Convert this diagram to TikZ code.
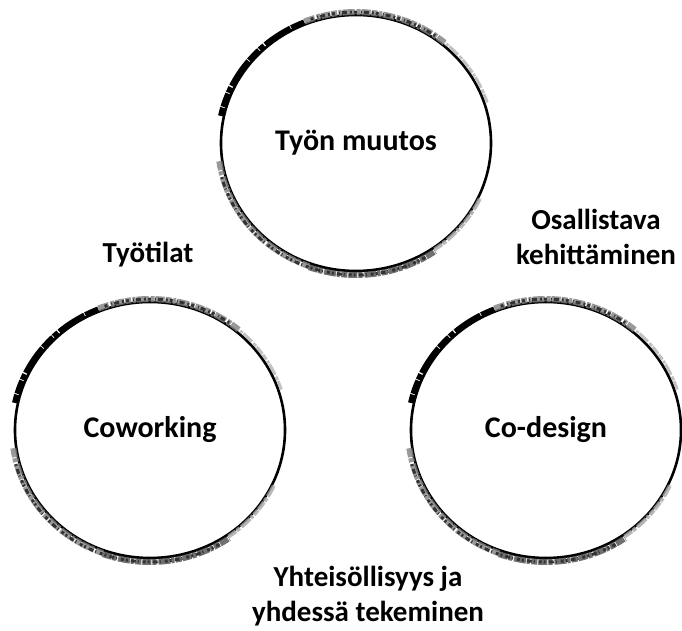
\documentclass[tikz,border=0pt]{standalone}
\usepackage{fontspec}
\setmainfont{Carlito}
\usepackage{tikz}
\usetikzlibrary{shapes.geometric}

\begin{document}
\begin{tikzpicture}[
  x=1pt, y=1pt,
  every node/.style={font=\bfseries\fontsize{29}{35}\selectfont, align=center},
  ring/.style={ellipse, draw, line width=2.6pt, minimum width=270pt, minimum height=256pt, inner sep=0pt,
    font=\bfseries\fontsize{30}{36}\selectfont},
  grunge/.style={line width=6pt, black!50, opacity=0.8, dash pattern=on 9pt off 1pt on 4pt off 2pt on 12pt off 1pt on 3pt off 1.5pt on 6pt off 1pt},
  speck/.style={line width=3pt, black!80, dash pattern=on 2pt off 3pt on 5pt off 2pt on 1pt off 4pt on 3pt off 2pt},
  smear/.style={line width=6pt, black, dash pattern=on 14pt off 1pt on 30pt off 1.5pt on 6pt off 1pt},
]
\useasboundingbox (0,0) rectangle (682,631);

% circles
\node[ring] (top) at (356,488) {Työn muutos};
\node[ring] (cowork) at (150,201) {Coworking};
\node[ring] (codesign) at (546,201) {Co-design};

% worn edges of the circles
\foreach \n in {top,cowork,codesign} {
  \draw[smear] ([shift={(112:138 and 130)}]\n.center) arc[start angle=112, end angle=168, x radius=138, y radius=130];
  \draw[grunge] ([shift={(50:138 and 131)}]\n.center) arc[start angle=50, end angle=112, x radius=138, y radius=131];
  \draw[speck] ([shift={(55:138 and 131)}]\n.center) arc[start angle=55, end angle=110, x radius=138, y radius=131];
  \draw[grunge] ([shift={(188:138 and 131)}]\n.center) arc[start angle=188, end angle=250, x radius=138, y radius=131];
  \draw[grunge, black!70] ([shift={(250:138 and 132)}]\n.center) arc[start angle=250, end angle=305, x radius=138, y radius=132];
  \draw[speck] ([shift={(195:139 and 132)}]\n.center) arc[start angle=195, end angle=300, x radius=139, y radius=132];
  \draw[grunge, black!35, line width=4pt] ([shift={(305:137 and 130)}]\n.center) arc[start angle=305, end angle=335, x radius=137, y radius=130];
  \draw[grunge, black!30, line width=3pt] ([shift={(18:138 and 131)}]\n.center) arc[start angle=18, end angle=50, x radius=138, y radius=131];
}

% labels between the circles
\node (tyotilat) at (148,376) {Työtilat};
\node (osallistava) at (596,394) {Osallistava\\kehittäminen};
\node (yhteis) at (368,35) {Yhteisöllisyys ja\\yhdessä tekeminen};
\end{tikzpicture}
\end{document}
